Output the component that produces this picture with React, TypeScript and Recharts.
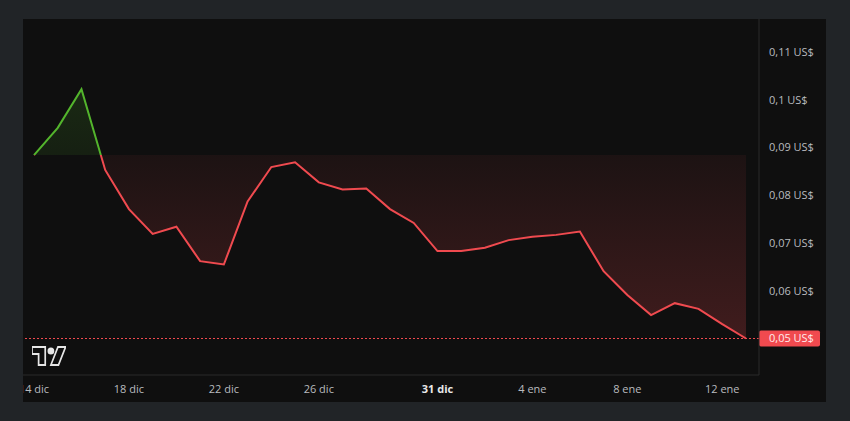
import React from 'react';
import { ComposedChart, Area, XAxis, YAxis, ReferenceLine } from 'recharts';

const dates = [
  '14 dic', '15 dic', '16 dic', '17 dic', '18 dic', '19 dic', '20 dic', '21 dic', '22 dic',
  '23 dic', '24 dic', '25 dic', '26 dic', '27 dic', '28 dic', '29 dic', '30 dic', '31 dic',
  '1 ene', '2 ene', '3 ene', '4 ene', '5 ene', '6 ene', '7 ene', '8 ene', '9 ene', '10 ene',
  '11 ene', '12 ene', '13 ene',
];

const prices = [
  0.0884, 0.0941, 0.1022, 0.0853, 0.0771, 0.0719, 0.0734, 0.0662, 0.0655,
  0.0787, 0.0859, 0.0869, 0.0827, 0.0812, 0.0814, 0.0771, 0.0742, 0.0683,
  0.0683, 0.069, 0.0706, 0.0713, 0.0717, 0.0724, 0.0641, 0.0591, 0.0549, 0.0574,
  0.0562, 0.053, 0.05,
];

const xTickIndexes = [0, 4, 8, 12, 17, 21, 25, 29];
const yTicks = [0.06, 0.07, 0.08, 0.09, 0.1, 0.11];
const boldTick = '31 dic';

const BASE = prices[0];
const LAST = prices[prices.length - 1];
const data = prices.map((p, i) => ({ i, date: dates[i], price: p }));
const maxV = Math.max(...prices);
const minV = Math.min(...prices);
const split = (maxV - BASE) / (maxV - minV);

const GREEN = '#53b52c';
const RED = '#f04a4f';
const FONT = '"Open Sans", "Noto Sans", sans-serif';

const fmt = (v: number) => String(Number(v.toFixed(2))).replace('.', ',') + ' US$';

const XTick = (props: any) => {
  const { x, y, payload } = props;
  const label = dates[payload.value];
  const bold = label === boldTick;
  return (
    <text
      x={x}
      y={y}
      dy="0.71em"
      textAnchor="middle"
      fill={bold ? '#e8e8e8' : '#b9bbbf'}
      fontWeight={bold ? 700 : 400}
      fontSize={11}
      fontFamily={FONT}
    >
      {label}
    </text>
  );
};

const YTick = (props: any) => {
  const { x, y, payload } = props;
  return (
    <text x={x} y={y} dy="0.355em" textAnchor="start" fill="#b9bbbf" fontSize={11} fontFamily={FONT}>
      {fmt(payload.value)}
    </text>
  );
};

const PriceTag = (props: any) => {
  const vb = props.viewBox || {};
  const x0 = (vb.x || 0) + (vb.width || 0);
  const y0 = vb.y || 0;
  return (
    <g>
      <rect x={x0} y={y0 - 8} width={61} height={16} rx={2} fill={RED} />
      <text x={x0 + 10} y={y0} dy="0.355em" fill="#ffecec" fontSize={11} fontFamily={FONT}>
        {fmt(LAST)}
      </text>
    </g>
  );
};

export default function App() {
  return (
    <div style={{ position: 'fixed', left: 0, top: 0, width: 850, height: 421, background: '#212427' }}>
      <div style={{ position: 'absolute', left: 23, top: 19, width: 803, height: 383, background: '#0f0f0f' }}>
        <ComposedChart width={803} height={383} data={data} margin={{ top: 0, right: 0, left: 0, bottom: 0 }}>
          <defs>
            <linearGradient id="strokeGrad" x1="0" y1="0" x2="0" y2="1">
              <stop offset={split} stopColor={GREEN} />
              <stop offset={split} stopColor={RED} />
            </linearGradient>
            <linearGradient id="fillGrad" x1="0" y1="0" x2="0" y2="1">
              <stop offset={0} stopColor={GREEN} stopOpacity={0.16} />
              <stop offset={split} stopColor={GREEN} stopOpacity={0.1} />
              <stop offset={split} stopColor={RED} stopOpacity={0.06} />
              <stop offset={1} stopColor={RED} stopOpacity={0.22} />
            </linearGradient>
          </defs>
          <XAxis
            dataKey="i"
            type="number"
            domain={[-0.4635, 30.548]}
            allowDataOverflow
            ticks={xTickIndexes}
            interval={0}
            tick={<XTick />}
            tickLine={false}
            tickSize={0}
            tickMargin={10}
            height={27}
            axisLine={{ stroke: '#2a2a2a' }}
          />
          <YAxis
            orientation="right"
            type="number"
            domain={[0.04236, 0.1169]}
            allowDataOverflow
            ticks={yTicks}
            interval={0}
            tick={<YTick />}
            tickLine={false}
            tickSize={0}
            tickMargin={10}
            width={67}
            axisLine={{ stroke: '#2a2a2a' }}
          />
          <Area
            type="linear"
            dataKey="price"
            baseValue={BASE}
            stroke="url(#strokeGrad)"
            strokeWidth={2}
            fill="url(#fillGrad)"
            fillOpacity={1}
            dot={false}
            activeDot={false}
            isAnimationActive={false}
          />
          <ReferenceLine
            y={LAST}
            stroke={RED}
            strokeDasharray="2 2"
            strokeWidth={1}
            label={<PriceTag />}
          />
        </ComposedChart>
        <svg
          width={34}
          height={28}
          viewBox="0 0 36 28"
          preserveAspectRatio="none"
          style={{ position: 'absolute', left: 9, top: 324, pointerEvents: 'none' }}
        >
          <path d="M14 22H7V11H0V4h14v18zM28 22h-8l7.5-18h8L28 22z" fill="#0f0f0f" stroke="#e6e6e6" strokeWidth={1.8} />
          <circle cx={20} cy={8} r={3.6} fill="#e6e6e6" />
        </svg>
      </div>
    </div>
  );
}
